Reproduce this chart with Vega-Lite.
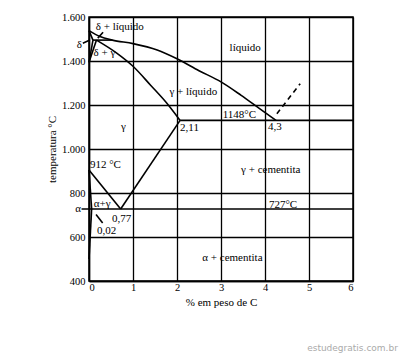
{
  "$schema": "https://vega.github.io/schema/vega-lite/v6.json",
  "width": 264,
  "height": 264,
  "autosize": {"type": "none"},
  "padding": {"left": 89, "top": 17, "right": 47, "bottom": 72},
  "background": "white",
  "config": {
    "view": {"stroke": "black", "strokeWidth": 1.5},
    "font": "Liberation Serif",
    "axis": {
      "labelFont": "Liberation Serif",
      "titleFont": "Liberation Serif",
      "labelFontSize": 10.5,
      "titleFontSize": 11,
      "labelColor": "black",
      "titleColor": "black",
      "titleFontWeight": "normal",
      "domainColor": "black",
      "domainWidth": 1.5,
      "gridColor": "black",
      "gridOpacity": 1,
      "gridWidth": 1.3,
      "ticks": false
    }
  },
  "datasets": {
    "curves": [
      {"seg": "liq", "i": 0, "c": 0, "t": 1538},
      {"seg": "liq", "i": 1, "c": 0.25, "t": 1511},
      {"seg": "liq", "i": 2, "c": 0.53, "t": 1495},
      {"seg": "liq", "i": 3, "c": 1.0, "t": 1479},
      {"seg": "liq", "i": 4, "c": 1.55, "t": 1450},
      {"seg": "liq", "i": 5, "c": 2.0, "t": 1410},
      {"seg": "liq", "i": 6, "c": 2.5, "t": 1356},
      {"seg": "liq", "i": 7, "c": 3.0, "t": 1305},
      {"seg": "liq", "i": 8, "c": 3.45, "t": 1245},
      {"seg": "liq", "i": 9, "c": 3.9, "t": 1180},
      {"seg": "liq", "i": 10, "c": 4.25, "t": 1130},
      {"seg": "sol", "i": 0, "c": 0.17, "t": 1495},
      {"seg": "sol", "i": 1, "c": 0.63, "t": 1436},
      {"seg": "sol", "i": 2, "c": 1.0, "t": 1376},
      {"seg": "sol", "i": 3, "c": 1.4, "t": 1290},
      {"seg": "sol", "i": 4, "c": 1.77, "t": 1208},
      {"seg": "sol", "i": 5, "c": 2.07, "t": 1130}
    ],
    "lines": [
      {"seg": "acm", "i": 0, "c": 2.07, "t": 1130},
      {"seg": "acm", "i": 1, "c": 0.72, "t": 727},
      {"seg": "a3", "i": 0, "c": 0, "t": 905},
      {"seg": "a3", "i": 1, "c": 0.72, "t": 727},
      {"seg": "peri", "i": 0, "c": 0.09, "t": 1495},
      {"seg": "peri", "i": 1, "c": 0.53, "t": 1495},
      {"seg": "dsol", "i": 0, "c": 0, "t": 1538},
      {"seg": "dsol", "i": 1, "c": 0.09, "t": 1495},
      {"seg": "dsolv", "i": 0, "c": 0, "t": 1394},
      {"seg": "dsolv", "i": 1, "c": 0.09, "t": 1495},
      {"seg": "gd", "i": 0, "c": 0, "t": 1394},
      {"seg": "gd", "i": 1, "c": 0.17, "t": 1495},
      {"seg": "ag", "i": 0, "c": 0, "t": 905},
      {"seg": "ag", "i": 1, "c": 0.06, "t": 727},
      {"seg": "asolv", "i": 0, "c": 0.06, "t": 727},
      {"seg": "asolv", "i": 1, "c": 0, "t": 500},
      {"seg": "eut", "i": 0, "c": 2.07, "t": 1130},
      {"seg": "eut", "i": 1, "c": 6, "t": 1130},
      {"seg": "eutd", "i": 0, "c": -0.17, "t": 727},
      {"seg": "eutd", "i": 1, "c": 6, "t": 727},
      {"seg": "lead1", "i": 0, "c": 0.32, "t": 1531},
      {"seg": "lead1", "i": 1, "c": 0.2, "t": 1504},
      {"seg": "lead2", "i": 0, "c": -0.14, "t": 1481},
      {"seg": "lead2", "i": 1, "c": 0.02, "t": 1495},
      {"seg": "lead3", "i": 0, "c": 0.31, "t": 664},
      {"seg": "lead3", "i": 1, "c": 0.16, "t": 702}
    ],
    "dashed": [
      {"i": 0, "c": 4.27, "t": 1160},
      {"i": 1, "c": 4.8, "t": 1297}
    ],
    "labelsCenter": [
      {"txt": "δ + líquido", "c": 0.7, "t": 1554},
      {"txt": "δ + γ", "c": 0.35, "t": 1435},
      {"txt": "δ", "c": -0.22, "t": 1473},
      {"txt": "líquido", "c": 3.55, "t": 1458},
      {"txt": "γ + líquido", "c": 2.37, "t": 1261},
      {"txt": "γ", "c": 0.78, "t": 1100},
      {"txt": "α", "c": -0.25, "t": 727},
      {"txt": "γ + cementita", "c": 4.13, "t": 903},
      {"txt": "727°C", "c": 4.41, "t": 745},
      {"txt": "α + cementita", "c": 3.26, "t": 505}
    ],
    "labelsLeft": [
      {"txt": "2,11", "c": 2.07, "t": 1095},
      {"txt": "1148°C", "c": 3.04, "t": 1154},
      {"txt": "4,3", "c": 4.07, "t": 1098},
      {"txt": "912 °C", "c": 0.02, "t": 926},
      {"txt": "α+γ", "c": 0.11, "t": 748},
      {"txt": "0,77", "c": 0.52, "t": 684},
      {"txt": "0,02", "c": 0.18, "t": 626}
    ],
    "wm": [
      {"txt": "estudegratis.com.br", "c": 7.02, "t": 95}
    ]
  },
  "encoding": {
    "x": {
      "field": "c", "type": "quantitative",
      "scale": {"domain": [0, 6], "nice": false, "zero": false},
      "axis": {"values": [0, 1, 2, 3, 4, 5, 6], "title": "% em peso de C", "labelPadding": 1, "titlePadding": 4, "format": "d"}
    },
    "y": {
      "field": "t", "type": "quantitative",
      "scale": {"domain": [400, 1600], "nice": false, "zero": false},
      "axis": {"values": [400, 600, 800, 1000, 1200, 1400, 1600], "title": "temperatura °C", "labelPadding": 4, "titlePadding": 4,
        "labelExpr": "replace(format(datum.value, ','), ',', '.')"}
    }
  },
  "layer": [
    {
      "data": {"name": "curves"},
      "mark": {"type": "line", "color": "black", "strokeWidth": 1.6, "interpolate": "monotone"},
      "encoding": {"detail": {"field": "seg"}, "order": {"field": "i"}}
    },
    {
      "data": {"name": "lines"},
      "mark": {"type": "line", "color": "black", "strokeWidth": 1.6, "clip": false},
      "encoding": {"detail": {"field": "seg"}, "order": {"field": "i"}}
    },
    {
      "data": {"name": "dashed"},
      "mark": {"type": "line", "color": "black", "strokeWidth": 1.6, "strokeDash": [5, 4]},
      "encoding": {"order": {"field": "i"}}
    },
    {
      "data": {"name": "labelsCenter"},
      "mark": {"type": "text", "font": "Liberation Serif", "fontSize": 11, "color": "black", "baseline": "middle", "align": "center"},
      "encoding": {"text": {"field": "txt"}}
    },
    {
      "data": {"name": "labelsLeft"},
      "mark": {"type": "text", "font": "Liberation Serif", "fontSize": 11, "color": "black", "baseline": "middle", "align": "left"},
      "encoding": {"text": {"field": "txt"}}
    },
    {
      "data": {"name": "wm"},
      "mark": {"type": "text", "font": "DejaVu Sans", "fontSize": 9, "color": "#aaaaaa", "align": "right", "baseline": "middle"},
      "encoding": {"text": {"field": "txt"}}
    }
  ]
}
